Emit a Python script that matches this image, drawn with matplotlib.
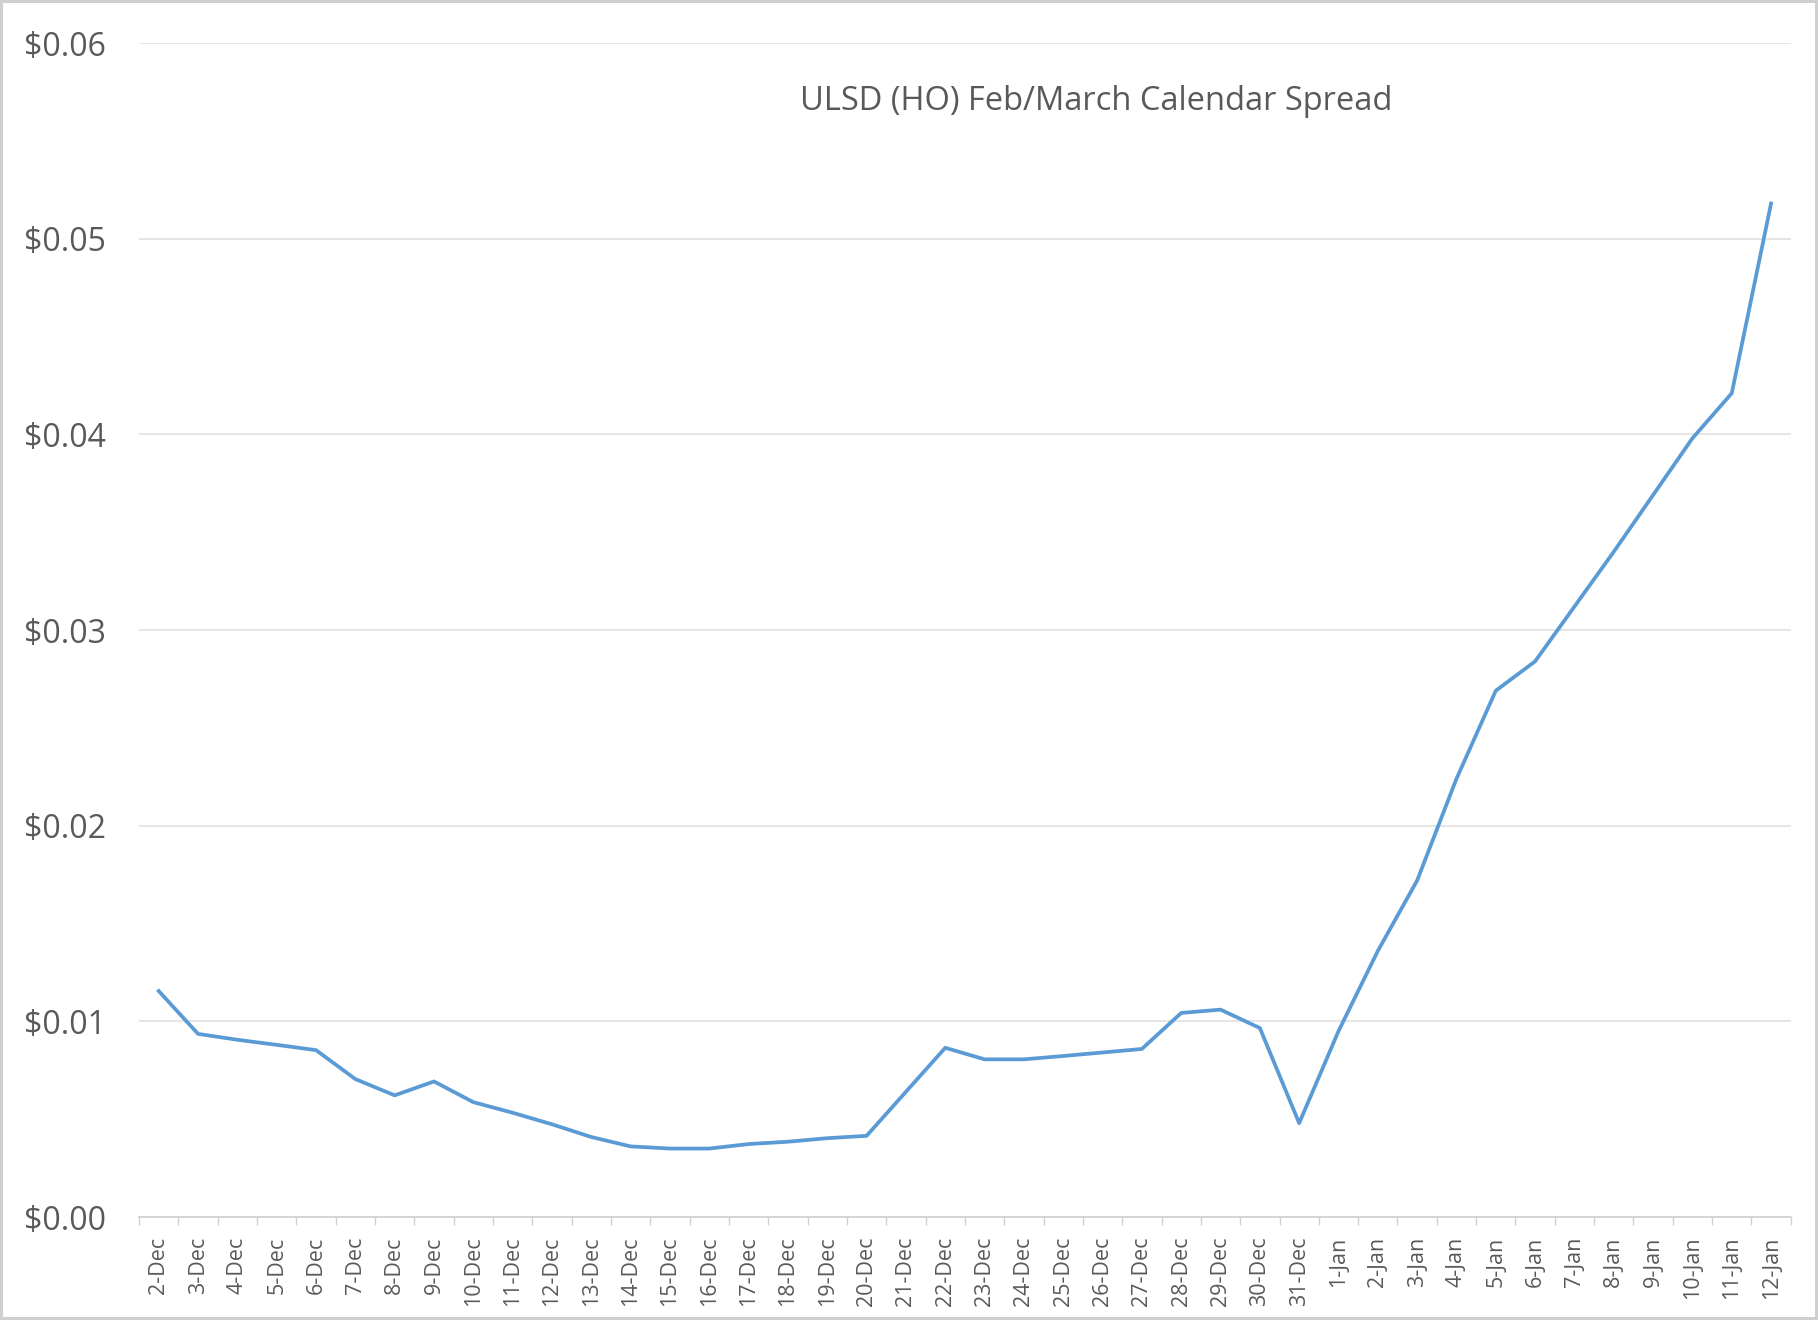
import matplotlib.pyplot as plt
from matplotlib.ticker import FuncFormatter

# category labels and spread values
dec_days = [f"{d}-Dec" for d in range(2, 32)]
jan_days = [f"{d}-Jan" for d in range(1, 13)]
labels = dec_days + jan_days

spread = [
    0.01155, 0.00936, 0.00906, 0.00880, 0.00853, 0.00705, 0.00622, 0.00693,
    0.00587, 0.00533, 0.00474, 0.00409, 0.00361, 0.00350, 0.00350, 0.00373,
    0.00385, 0.00403, 0.00415, 0.00640, 0.00865, 0.00806, 0.00806, 0.00823,
    0.00841, 0.00859, 0.01043, 0.01060, 0.00966, 0.00480,
    0.00950, 0.01360, 0.01720, 0.02240, 0.02690, 0.02840, 0.03120, 0.03400,
    0.03690, 0.03980, 0.04210, 0.05180,
]

y_ticks = [0.0, 0.01, 0.02, 0.03, 0.04, 0.05, 0.06]
title = "ULSD (HO) Feb/March Calendar Spread"

plt.rcParams['font.family'] = ['Open Sans', 'DejaVu Sans']

fig = plt.figure(figsize=(18.18, 13.2), dpi=100)
fig.patch.set_edgecolor('#cfcfcf')
fig.patch.set_linewidth(4)
ax = fig.add_axes([0.0765, 0.078, 0.9085, 0.8894])

x = list(range(len(labels)))
ax.plot(x, spread, color='#5b9bd5', linewidth=2.7, solid_joinstyle='round')

ax.set_xlim(-0.5, len(labels) - 0.5)
ax.set_ylim(0, 0.06)
ax.set_yticks(y_ticks)
ax.yaxis.set_major_formatter(FuncFormatter(lambda v, p: f"${v:.2f}"))
ax.grid(axis='y', color='#e0e0e0', linewidth=1.2)
ax.set_axisbelow(True)

ax.set_xticks(x)
ax.set_xticklabels(labels, rotation=90, fontsize=15.5, color='#595959')
ax.set_xticks([i - 0.5 for i in range(len(labels) + 1)], minor=True)
ax.tick_params(axis='x', which='major', length=0, pad=14)
ax.tick_params(axis='x', which='minor', length=6, color='#d0d0d0', width=1)
ax.tick_params(axis='y', length=0, labelsize=23, labelcolor='#595959', pad=24)

for side in ['top', 'right', 'left']:
    ax.spines[side].set_visible(False)
ax.spines['bottom'].set_color('#d0d0d0')
ax.spines['bottom'].set_linewidth(1.2)

ax.text(0.603, 0.923, title, transform=fig.transFigure, ha='center', va='center',
        fontsize=23.5, color='#595959')

fig.savefig('out.png', dpi=100, edgecolor=fig.get_edgecolor())
